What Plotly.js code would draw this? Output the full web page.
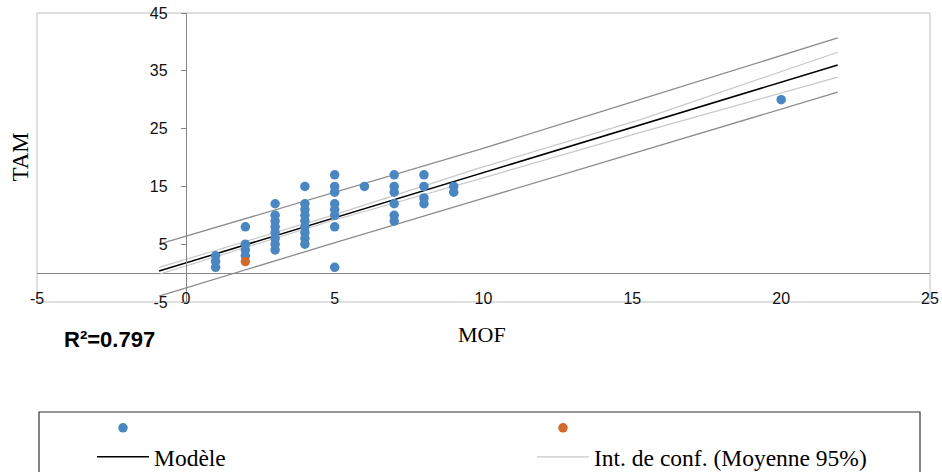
<!DOCTYPE html>
<html>
<head>
<meta charset="utf-8">
<script src="https://cdn.plot.ly/plotly-3.0.1.min.js"></script>
<style>html,body{margin:0;padding:0;background:#fff;}#chart{width:942px;height:472px;}</style>
</head>
<body>
<div id="chart"></div>
<script>
// Observations (MOF, TAM)
const obsMOF = [1,1,1, 2,2,2,2, 3,3,3,3,3,3,3,3, 4,4,4,4,4,4,4,4,4, 5,5,5,5,5,5,5,5, 6, 7,7,7,7,7,7, 8,8,8,8, 9,9, 20];
const obsTAM = [1,2,3, 8,5,4,3, 12,10,9,8,7,6,5,4, 15,12,11,10,9,8,7,6,5, 17,15,14,12,11,10,8,1, 15, 17,15,14,12,10,9, 17,15,13,12, 15,14, 30];
// Highlighted observation
const hiMOF = [2];
const hiTAM = [2];
// Regression model line
const modelX = [-0.9, 21.9];
const modelY = [0.35, 36.0];
// Confidence interval of the mean (95%)
const ciX = [-0.9, 4.9, 9.9, 15.3, 21.9];
const ciUpper = [1.0, 9.95, 18.25, 26.6, 38.2];
const ciLower = [-0.2, 9.05, 16.35, 24.4, 33.9];
// Confidence interval of observations (95%)
const piUpper = [5.0, 13.8, 21.45, 30.1, 40.7];
const piLower = [-4.0, 5.1, 12.8, 21.1, 31.3];
// Tick values
const xTicks = [-5, 0, 5, 10, 15, 20, 25];
const yTicks = [-5, 5, 15, 25, 35, 45];
const r2Text = 'R²=0.797';

const BLUE = '#4A86C2', ORANGE = '#D5692B';
const data = [
  {x: ciX, y: piUpper, mode: 'lines', line: {color: '#8C8C8C', width: 1.3}, showlegend: false, hoverinfo: 'skip'},
  {x: ciX, y: piLower, mode: 'lines', line: {color: '#8C8C8C', width: 1.3}, showlegend: false, hoverinfo: 'skip'},
  {x: ciX, y: ciUpper, mode: 'lines', line: {color: '#C8C8C8', width: 1.2}, name: 'Int. de conf. (Moyenne 95%)', legend: 'legend4', legendgroup: 'ci'},
  {x: ciX, y: ciLower, mode: 'lines', line: {color: '#C8C8C8', width: 1.2}, showlegend: false, legendgroup: 'ci'},
  {x: modelX, y: modelY, mode: 'lines', line: {color: '#000000', width: 1.5}, name: 'Modèle', legend: 'legend3'},
  {x: obsMOF, y: obsTAM, mode: 'markers', marker: {color: BLUE, size: 9.5}, name: '', legend: 'legend'},
  {x: hiMOF, y: hiTAM, mode: 'markers', marker: {color: ORANGE, size: 9.5}, name: ' ', legend: 'legend2'}
];

const W = 942, H = 472, L = 37, R = 12, T = 13, B = 170;
const pw = W - L - R, ph = H - T - B;
const px = v => (v - L) / pw;          // pixel x -> paper
const py = v => (H - B - v) / ph;      // pixel y -> paper

const tickFont = {family: 'Liberation Sans, Arial, sans-serif', size: 16, color: '#111'};
const axGray = '#868686';
const legFont = {family: 'Liberation Serif, Times New Roman, serif', size: 23.5, color: '#000'};
const leg = (xp, yp) => ({orientation: 'h', x: px(xp), xanchor: 'left', y: py(yp), yanchor: 'top',
  itemwidth: 52, font: legFont, bgcolor: 'rgba(0,0,0,0)', borderwidth: 0});

const layout = {
  width: W, height: H,
  margin: {l: L, r: R, t: T, b: B, pad: 0, autoexpand: false},
  paper_bgcolor: '#fff', plot_bgcolor: '#fff',
  showlegend: true,
  xaxis: {range: [-5, 25], domain: [0, 1], anchor: 'y', tickvals: xTicks, ticktext: xTicks.map(String),
          showline: false, showgrid: false, zeroline: false, ticks: '', tickfont: tickFont,
          ticklabelstandoff: -15, fixedrange: true},
  yaxis: {range: [-5, 45], domain: [0, 1], anchor: 'free', position: 5 / 30, tickvals: yTicks, ticktext: yTicks.map(String),
          showline: true, linecolor: axGray, linewidth: 1, showgrid: false,
          zeroline: true, zerolinecolor: axGray, zerolinewidth: 1,
          ticks: 'outside', ticklen: 5, tickcolor: axGray, tickwidth: 1, tickfont: tickFont,
          ticklabelstandoff: 10, fixedrange: true},
  xaxis2: {range: [-5, 25], overlaying: 'x', anchor: 'free', position: 0.1, tickvals: xTicks, showticklabels: false,
           showline: false, showgrid: false, zeroline: false, ticks: 'outside', ticklen: 5, tickcolor: axGray, tickwidth: 1},
  xaxis3: {range: [-5, 25], overlaying: 'x', anchor: 'free', position: 0.1, tickvals: xTicks, showticklabels: false,
           showline: false, showgrid: false, zeroline: false, ticks: 'inside', ticklen: 5, tickcolor: axGray, tickwidth: 1},
  yaxis2: {range: [-5, 45], overlaying: 'y', anchor: 'free', position: 5 / 30, tickvals: yTicks, showticklabels: false,
           showline: false, showgrid: false, zeroline: false, ticks: 'inside', ticklen: 5, tickcolor: axGray, tickwidth: 1},
  legend: leg(92, 406),
  legend2: leg(532, 406),
  legend3: leg(92, 435),
  legend4: leg(532, 435),
  shapes: [
    {type: 'rect', xref: 'paper', yref: 'paper', x0: 0, x1: 1, y0: 0, y1: 1, line: {color: '#BFBFBF', width: 1}, layer: 'below'},
    {type: 'rect', xref: 'paper', yref: 'paper', x0: px(39), x1: px(920), y0: py(520), y1: py(412), line: {color: '#333', width: 1.2}, fillcolor: 'rgba(0,0,0,0)'}
  ],
  annotations: [
    {text: 'TAM', xref: 'paper', yref: 'paper', x: px(20), y: 0.5, xanchor: 'center', yanchor: 'middle', textangle: -90,
     showarrow: false, font: {family: 'Liberation Serif, Times New Roman, serif', size: 23, color: '#000'}},
    {text: 'MOF', xref: 'paper', yref: 'paper', x: px(482), y: py(334), xanchor: 'center', yanchor: 'middle',
     showarrow: false, font: {family: 'Liberation Serif, Times New Roman, serif', size: 22, color: '#000'}},
    {text: '<b>' + r2Text + '</b>', xref: 'paper', yref: 'paper', x: px(62), y: py(339), xanchor: 'left', yanchor: 'middle',
     showarrow: false, font: {family: 'Liberation Sans, Arial, sans-serif', size: 22, color: '#000'}}
  ]
};

Plotly.newPlot('chart', data, layout, {displayModeBar: false, staticPlot: true});
</script>
</body>
</html>
